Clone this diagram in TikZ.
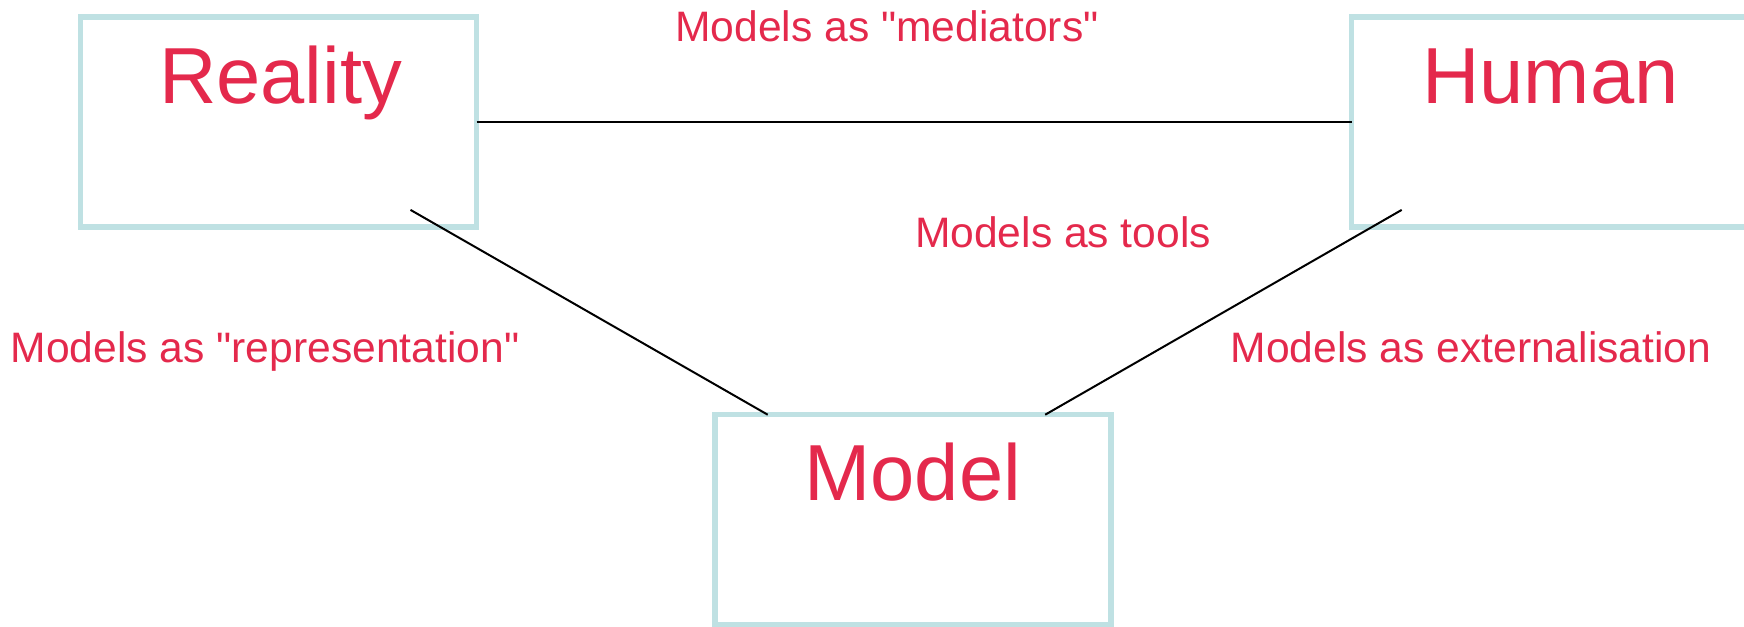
\documentclass[tikz,border=0pt]{standalone}
\usepackage{fontspec}
\setmainfont{Liberation Sans}
\definecolor{boxline}{RGB}{191,225,227}
\definecolor{labelred}{RGB}{228,41,76}
\begin{document}
\begin{tikzpicture}[x=1pt,y=-1pt,
  box/.style={draw=boxline,line width=5.5pt,rectangle,inner sep=0pt,outer sep=0pt,
              minimum width=396pt,minimum height=210pt},
  title/.style={text=labelred,anchor=base,inner sep=0pt,font=\fontsize{79.5}{90}\selectfont},
  caption/.style={text=labelred,anchor=base,inner sep=0pt,font=\fontsize{42.6}{50}\selectfont},
  link/.style={draw=black,line width=2pt}]
  \useasboundingbox (0,0) rectangle (1744,626);

  % the three boxes
  \node[box] (reality) at (278.5,121.9) {};
  \node[box] (human)   at (1549.7,121.9) {};
  \node[box] (model)   at (913.2,519.7) {};

  % box titles
  \node[title] (realityT) at (280.5,103.3) {Reality};
  \node[title] (humanT)   at (1550.5,103.3) {Human};
  \node[title] (modelT)   at (912.8,500.7) {Model};

  % connectors
  \draw[link] (reality.east) -- (human.west);
  \draw[link] ([shift={(-66pt,17pt)}]reality.south east) -- ([shift={(52.5pt,0pt)}]model.north west);
  \draw[link] ([shift={(50pt,17pt)}]human.south west) -- ([shift={(-66pt,0pt)}]model.north east);

  % connector captions
  \node[caption] (medi) at (887,41.7) {Models as \textquotedbl mediators\textquotedbl};
  \node[caption] (tool) at (1063,247.3) {Models as tools};
  \node[caption] (repr) at (265,362.7) {Models as \textquotedbl representation\textquotedbl};
  \node[caption] (extn) at (1471,362.7) {Models as externalisation};
\end{tikzpicture}
\end{document}
